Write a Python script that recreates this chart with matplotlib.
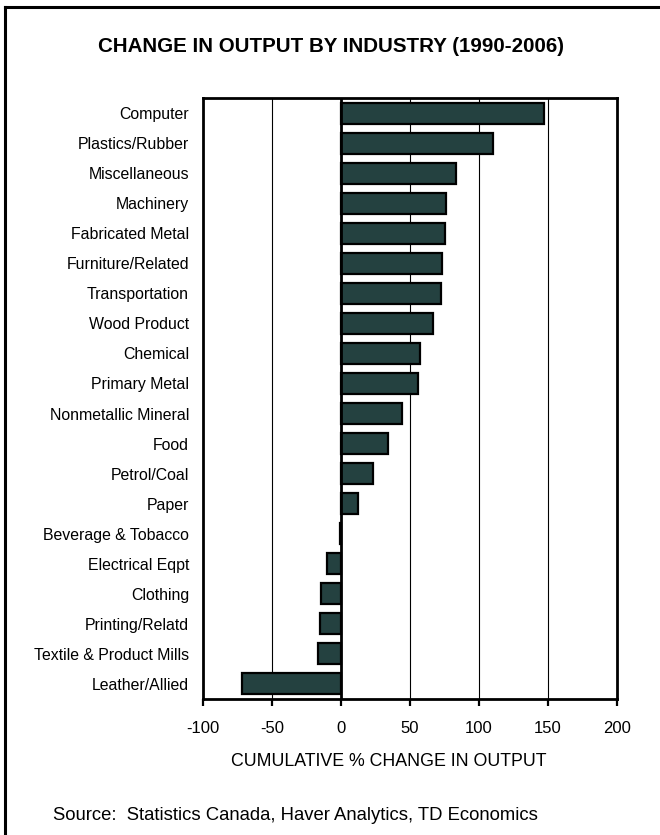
import matplotlib
matplotlib.use("Agg")
import matplotlib.pyplot as plt
from matplotlib.lines import Line2D

plt.rcParams['font.family'] = ['Liberation Sans', 'DejaVu Sans']

industries = [
    "Computer", "Plastics/Rubber", "Miscellaneous", "Machinery",
    "Fabricated Metal", "Furniture/Related", "Transportation", "Wood Product",
    "Chemical", "Primary Metal", "Nonmetallic Mineral", "Food",
    "Petrol/Coal", "Paper", "Beverage & Tobacco", "Electrical Eqpt",
    "Clothing", "Printing/Relatd", "Textile & Product Mills", "Leather/Allied",
]
change_pct = [
    147, 110, 83.5, 76, 75, 73.5, 72.5, 66.5,
    57, 56, 44.5, 34, 23.5, 12.5, -1, -10.5,
    -14.5, -15.5, -16.5, -71.5,
]
x_ticks = [-100, -50, 0, 50, 100, 150, 200]

fig = plt.figure(figsize=(6.6, 8.35), dpi=100)
ax = fig.add_axes([203 / 660, 1 - 699 / 835, 414 / 660, 601 / 835])

y = list(range(len(industries)))
ax.barh(y, change_pct, height=0.7, color="#244140", edgecolor="black",
        linewidth=1.6, zorder=3)

ax.set_xlim(-100, 200)
ax.set_ylim(len(industries) - 0.5, -0.5)
ax.set_xticks(x_ticks)
ax.set_xticklabels([str(v) for v in x_ticks], fontsize=12)
ax.set_yticks(y)
ax.set_yticklabels(industries, fontsize=11.4)
ax.tick_params(axis="y", length=0, pad=10)
ax.tick_params(axis="x", direction="out", length=5, width=1.6, pad=11)

for v in [-50, 50, 100, 150]:
    ax.axvline(v, color="black", linewidth=0.8, zorder=1)
ax.axvline(0, color="black", linewidth=2.0, zorder=4)

for s in ax.spines.values():
    s.set_linewidth(2.0)

fig.text(389 / 660, 1 - 761 / 835, "CUMULATIVE % CHANGE IN OUTPUT",
         ha="center", va="center", fontsize=12.8)
fig.text(331 / 660, 1 - 46 / 835, "CHANGE IN OUTPUT BY INDUSTRY (1990-2006)",
         ha="center", va="center", fontsize=14.8, fontweight="bold")
fig.text(53 / 660, 1 - 816 / 835,
         "Source:  Statistics Canada, Haver Analytics, TD Economics",
         ha="left", va="center", fontsize=13.3)

# outer panel border (top and left edges)
fig.add_artist(Line2D([5 / 660, 5 / 660], [0, 1 - 7 / 835], color="black",
                      linewidth=2.2, transform=fig.transFigure))
fig.add_artist(Line2D([5 / 660, 1], [1 - 7 / 835, 1 - 7 / 835], color="black",
                      linewidth=2.2, transform=fig.transFigure))

fig.savefig("out.png", dpi=100)
